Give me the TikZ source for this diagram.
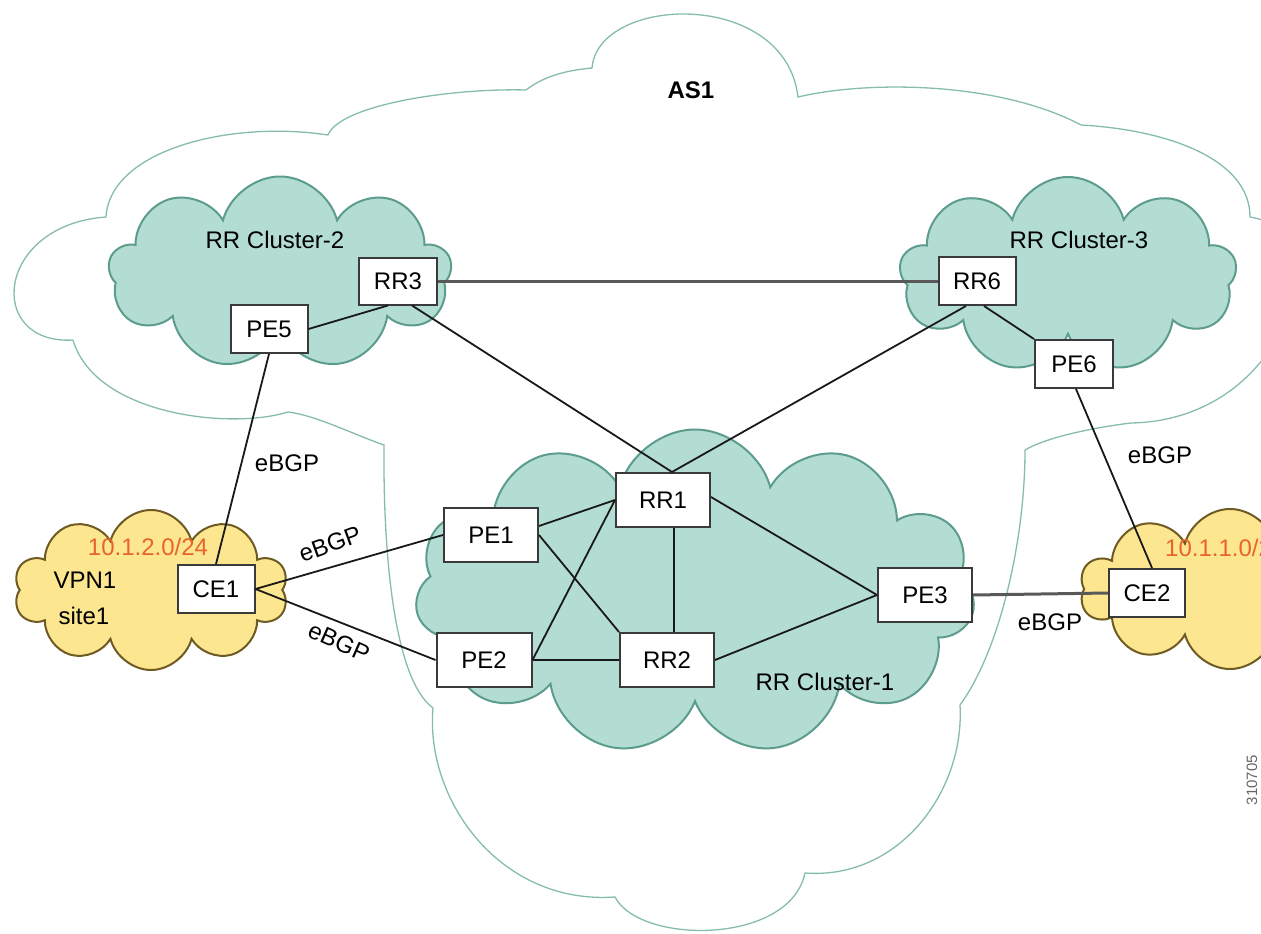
\documentclass[tikz,border=0pt]{standalone}
\usepackage{fontspec}
\setmainfont{Liberation Sans}
\usetikzlibrary{shapes.symbols}
\definecolor{tealfill}{HTML}{B3DDD2}
\definecolor{tealline}{HTML}{5C9C8C}
\definecolor{asline}{HTML}{86BCAF}
\definecolor{yelfill}{HTML}{FDE690}
\definecolor{yelline}{HTML}{6E5A22}
\definecolor{ipred}{HTML}{E8642C}
\definecolor{boxline}{HTML}{3A3A3A}
\tikzset{
  lbl/.style={font=\fontsize{24pt}{28pt}\selectfont, inner sep=0pt},
  dev/.style={draw=boxline, fill=white, line width=2pt, inner sep=0pt,
     font=\fontsize{24pt}{28pt}\selectfont},
  tealcloud/.style={cloud, cloud ignores aspect, draw=tealline, fill=tealfill, line width=2pt, inner sep=0pt},
  yelcloud/.style={cloud, cloud ignores aspect, draw=yelline, fill=yelfill, line width=2pt, inner sep=0pt},
  link/.style={draw=black!90, line width=1.8pt},
  trunk/.style={draw=black!65, line width=3pt},
}
\begin{document}
\begin{tikzpicture}[x=1pt,y=-1pt]
\useasboundingbox (0,0) rectangle (1261,934);
\fill[white] (0,0) rectangle (1261,934);
\begin{scope}
\clip (0,0) rectangle (1261,934);
% AS1 outline
\draw[asline, line width=1.3pt]
  (73,340) .. controls (-15,345) and (-5,225) .. (106,217)
  .. controls (110,150) and (230,120) .. (328,135)
  .. controls (340,105) and (450,88) .. (526,90)
  .. controls (545,75) and (570,70) .. (592,68)
  .. controls (598,-5) and (785,-12) .. (798,97)
  .. controls (870,80) and (1000,82) .. (1081,125)
  .. controls (1170,130) and (1250,160) .. (1250,217)
  .. controls (1340,230) and (1290,420) .. (1131,423)
  .. controls (1090,428) and (1045,438) .. (1025,450)
  .. controls (1025,540) and (1000,650) .. (960,705)
  .. controls (965,790) and (900,880) .. (805,873)
  .. controls (790,945) and (640,945) .. (615,897)
  .. controls (500,905) and (425,800) .. (433,708)
  .. controls (395,680) and (383,560) .. (384,445)
  .. controls (355,435) and (315,415) .. (288,412)
  .. controls (230,430) and (95,415) .. (73,340);
% clusters
\node[tealcloud, cloud puffs=9, minimum width=343pt, minimum height=193pt] (cl2) at (280,273) {};
\node[tealcloud, cloud puffs=9, minimum width=337pt, minimum height=196pt] (cl3) at (1068,275) {};
\node[tealcloud, cloud puffs=11, minimum width=560pt, minimum height=325pt] (cl1) at (695,592) {};
\node[yelcloud, cloud puffs=10, minimum width=274pt, minimum height=160pt] (vpn1) at (151,590) {};
\node[yelcloud, cloud puffs=10, minimum width=300pt, minimum height=160pt] (vpn2) at (1230,589) {};
\end{scope}
% labels
\node[lbl, font=\fontsize{24pt}{28pt}\selectfont\bfseries] (as1) at (691,90) {AS1};
\node[lbl] (c2l) at (275,240) {RR Cluster-2};
\node[lbl] (c3l) at (1079,240) {RR Cluster-3};
\node[lbl] (c1l) at (825,682) {RR Cluster-1};
\node[lbl, text=ipred] (net1) at (148,547) {10.1.2.0/24};
\node[lbl, text=ipred, anchor=west] (net2) at (1165,548) {10.1.1.0/24};
\node[lbl] (vpnl) at (85,580) {VPN1};
\node[lbl] (sitel) at (84,616) {site1};
% devices
\node[dev, minimum width=78pt, minimum height=47pt] (RR3) at (398,281) {RR3};
\node[dev, minimum width=77pt, minimum height=48pt] (PE5) at (269,329) {PE5};
\node[dev, minimum width=77pt, minimum height=48pt] (RR6) at (977,281) {RR6};
\node[dev, minimum width=78pt, minimum height=48pt] (PE6) at (1074,364) {PE6};
\node[dev, minimum width=94pt, minimum height=54pt] (RR1) at (663,500) {RR1};
\node[dev, minimum width=94pt, minimum height=54pt] (PE1) at (491,535) {PE1};
\node[dev, minimum width=95pt, minimum height=54pt] (PE2) at (484,660) {PE2};
\node[dev, minimum width=94pt, minimum height=54pt] (RR2) at (667,660) {RR2};
\node[dev, minimum width=94pt, minimum height=54pt] (PE3) at (925,595) {PE3};
\node[dev, minimum width=77pt, minimum height=48pt] (CE1) at (216,589) {CE1};
\node[dev, minimum width=76pt, minimum height=48pt] (CE2) at (1147,593) {CE2};
% connectors
\draw[trunk] (RR3.east) -- (RR6.west);
\draw[trunk] (PE3.east) -- (CE2.west);
\draw[link] (PE5.east) -- ([xshift=-10pt]RR3.south);
\draw[link] ([xshift=14pt]RR3.south) -- ([xshift=9pt]RR1.north);
\draw[link] ([xshift=-11pt]RR6.south) -- ([xshift=9pt]RR1.north);
\draw[link] ([xshift=7pt]RR6.south) -- (PE6.north west);
\draw[link] ([xshift=2pt]PE6.south) -- ([xshift=5pt]CE2.north);
\draw[link] (PE5.south) -- (CE1.north);
\draw[link] (CE1.east) -- (PE1.west);
\draw[link] (CE1.east) -- (PE2.west);
\draw[link] ([yshift=9pt]PE1.east) -- (RR1.west);
\draw[link] (PE1.east) -- (RR2.north west);
\draw[link] (PE2.east) -- (RR1.west);
\draw[link] (PE2.east) -- (RR2.west);
\draw[link] ([xshift=11pt]RR1.south) -- ([xshift=7pt]RR2.north);
\draw[link] ([yshift=3pt]RR1.east) -- (PE3.west);
\draw[link] (RR2.east) -- (PE3.west);
% eBGP labels
\node[lbl] (eb1) at (287,463) {eBGP};
\node[lbl, rotate=20] (eb2) at (330,544) {eBGP};
\node[lbl, rotate=-24] (eb3) at (339,642) {eBGP};
\node[lbl] (eb4) at (1160,455) {eBGP};
\node[lbl] (eb5) at (1050,622) {eBGP};
\node[lbl, rotate=90, text=black!60, font=\fontsize{15pt}{18pt}\selectfont] (fig) at (1252,780) {310705};
\end{tikzpicture}
\end{document}
